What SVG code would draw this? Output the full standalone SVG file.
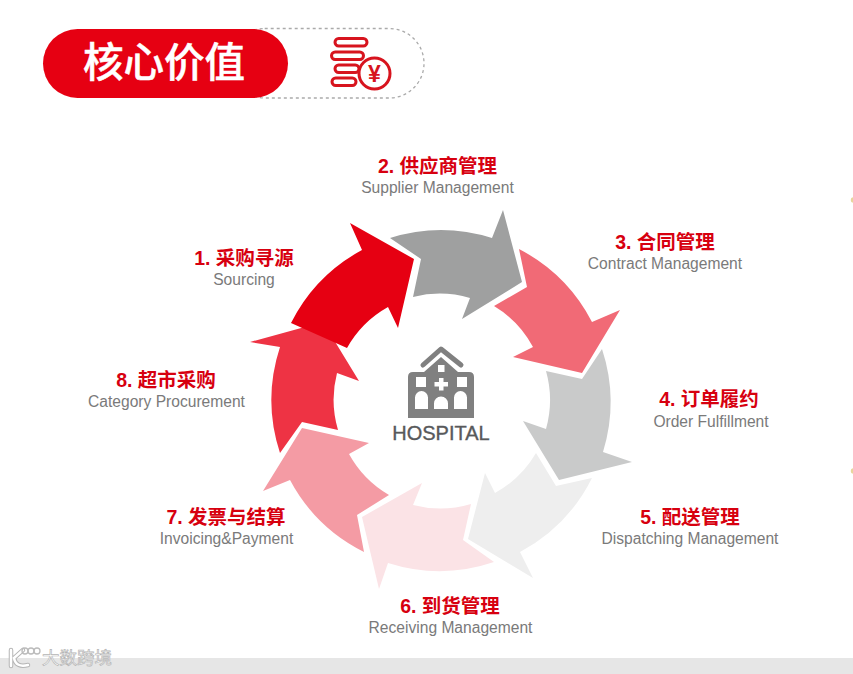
<svg xmlns="http://www.w3.org/2000/svg" width="853" height="674" viewBox="0 0 853 674">
<style>
.t{font-family:"Liberation Sans","Noto Sans CJK SC",sans-serif;font-weight:700;font-size:19.500px;fill:#d7000f;text-anchor:middle}
.s{font-family:"Liberation Sans",Arial,sans-serif;font-size:15.600px;fill:#7a7a7a;text-anchor:middle}
.b{fill:none;stroke:#d7141e;stroke-width:3}
.w{fill:#fff}
</style>
<rect width="853" height="674" fill="#fff"/>
<rect id="footer-band" x="0" y="658" width="853" height="16" fill="#e6e6e6"/>
<g id="title">
<rect x="230" y="28.500" width="194" height="69.500" rx="34.700" fill="#fff" stroke="#aaa" stroke-width="1.300" stroke-dasharray="3 3"/>
<rect x="43" y="29" width="245" height="69" rx="34.500" fill="#e60012"/>
<text x="164" y="76.500" font-family="'Noto Sans CJK SC',sans-serif" font-weight="500" font-size="40.500" fill="#fff" stroke="#fff" stroke-width="0.500" text-anchor="middle">核心价值</text>
</g>
<g id="coin-icon">
<rect class="b" x="335" y="38.500" width="32" height="7.500" rx="3.700"/>
<rect class="b" x="331.500" y="52" width="32" height="7.500" rx="3.700"/>
<rect class="b" x="335" y="65" width="24" height="7.500" rx="3.700"/>
<rect class="b" x="332" y="78" width="24" height="7.500" rx="3.700"/>
<circle cx="374.500" cy="73.500" r="15.500" fill="#fff" stroke="#d7141e" stroke-width="3"/>
<text x="374.500" y="81.500" font-family="'Liberation Sans',sans-serif" font-weight="700" font-size="23" fill="#d7141e" text-anchor="middle">¥</text>
</g>
<g id="connectors">
<path id="arrow-2" fill="#9fa0a0" d="M390 238A170 170 0 0 1 492 238L503 210L522 282L462 319L470 298A107 107 0 0 0 413 297L421 259Z"/>
<path id="arrow-3" fill="#f16a76" d="M519 249A170 170 0 0 1 592 322L620 310L582 373L513 357L533 347A107 107 0 0 0 494 306L527 287Z"/>
<path id="arrow-4" fill="#c9caca" d="M602 349A170 170 0 0 1 603 452L632 462L559 480L523 421L546 429A107 107 0 0 0 546 371L582 379Z"/>
<path id="arrow-5" fill="#eeeeee" d="M592 478A170 170 0 0 1 520 552L533 578L468 539L485 473L495 493A107 107 0 0 0 536 453L556 486Z"/>
<path id="arrow-6" fill="#fbe3e6" d="M494 562A170 170 0 0 1 388 563L379 589L362 517L422 483L413 505A107 107 0 0 0 471 504L463 540Z"/>
<path id="arrow-7" fill="#f49ba4" d="M364 552A170 170 0 0 1 290 480L263 491L302 428L369 443L349 454A107 107 0 0 0 389 495L357 515Z"/>
<path id="arrow-8" fill="#ee3344" d="M280 453A170 170 0 0 1 280 347L250 342L323 322L359 381L337 373A107 107 0 0 0 338 430L302 422Z"/>
<path id="arrow-1" fill="#e60012" d="M291 323A170 170 0 0 1 362 250L350 223L414 259L398 328L388 307A107 107 0 0 0 347 348Z"/>
</g>
<g id="hospital">
<path d="M423 365L441 349L461 365" fill="none" stroke="#808080" stroke-width="5" stroke-linecap="round" stroke-linejoin="round"/>
<path fill="#808080" d="M408 418V377Q408 372 413 372H424L441 357L458 372H469Q474 372 474 377V418Z"/>
<path class="w" d="M416 377h10v10h-10zM457 377h10v10h-10zM438 365h6.500v7h-6.500zM439 378h4.500v4h4.500v4.500h-4.500v4h-4.500v-4h-4.500v-4.500h4.500z"/>
<path class="w" d="M415 409V397.500a6.500 6.500 0 0 1 13 0V409zM434 409V403.500a7 7 0 0 1 14 0V409zM454 409V397.500a6.500 6.500 0 0 1 13 0V409z"/>
<text x="441" y="440" font-family="'Liberation Sans',sans-serif" font-size="20" fill="#58595b" stroke="#58595b" stroke-width="0.350" text-anchor="middle">HOSPITAL</text>
</g>
<g id="n1"><text class="t" x="244" y="265">1. 采购寻源</text><text class="s" x="244" y="284.500">Sourcing</text></g>
<g id="n2"><text class="t" x="437.500" y="173">2. 供应商管理</text><text class="s" x="437.500" y="192.500">Supplier Management</text></g>
<g id="n3"><text class="t" x="665" y="249">3. 合同管理</text><text class="s" x="665" y="268.500">Contract Management</text></g>
<g id="n4"><text class="t" x="709" y="406">4. 订单履约</text><text class="s" x="711" y="426.500">Order Fulfillment</text></g>
<g id="n5"><text class="t" x="690" y="524">5. 配送管理</text><text class="s" x="690" y="543.500">Dispatching Management</text></g>
<g id="n6"><text class="t" x="450" y="613">6. 到货管理</text><text class="s" x="450.500" y="632.500">Receiving Management</text></g>
<g id="n7"><text class="t" x="226" y="524">7. 发票与结算</text><text class="s" x="226.500" y="543.500">Invoicing&amp;Payment</text></g>
<g id="n8"><text class="t" x="166" y="387">8. 超市采购</text><text class="s" x="166.500" y="406.500">Category Procurement</text></g>
<g id="watermark">
<path d="M11 650V666M23 650L14 658Q16 668 28 665" fill="none" stroke="#b5b5b5" stroke-width="4.500" stroke-linecap="round"/>
<path d="M11 650V666M23 650L14 658Q16 668 28 665" fill="none" stroke="#fff" stroke-width="2.500" stroke-linecap="round"/>
<circle cx="25" cy="651" r="3" fill="none" stroke="#bbb" stroke-width="1.300"/>
<circle cx="31" cy="651" r="3" fill="none" stroke="#bbb" stroke-width="1.300"/>
<circle cx="37" cy="651" r="3" fill="none" stroke="#bbb" stroke-width="1.300"/>
<text x="77" y="664" font-family="'Noto Sans CJK SC',sans-serif" font-size="17.500" fill="#fff" stroke="#b5b5b5" stroke-width="0.700" text-anchor="middle">大数跨境</text>
</g>
<g id="edge-specks" fill="#e8d59c">
<circle cx="853.500" cy="200" r="2.800"/>
<circle cx="853.500" cy="471" r="2.800"/>
</g>
</svg>
